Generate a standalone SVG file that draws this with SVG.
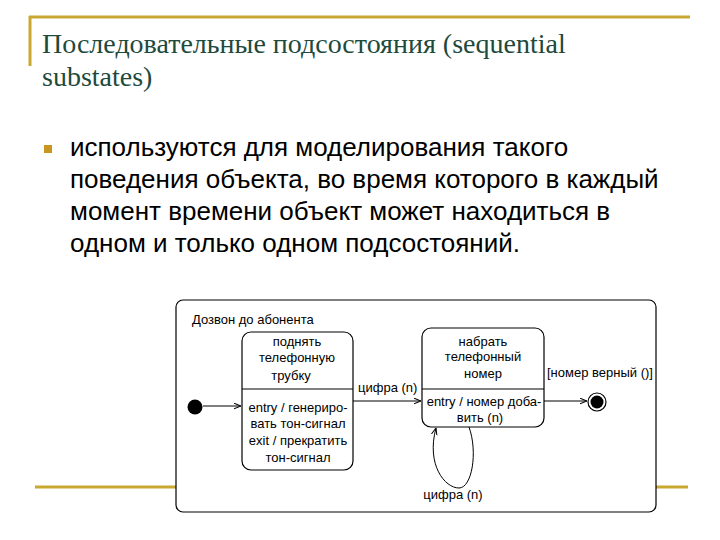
<svg xmlns="http://www.w3.org/2000/svg" width="720" height="540" viewBox="0 0 720 540">
<defs>
<style>
.gold{stroke:#c8a830;stroke-width:3;fill:none}
.title{font-family:"Liberation Serif",serif;font-size:28px;fill:#1e4a3c}
.body{font-family:"Liberation Sans",Arial,sans-serif;font-size:26px;fill:#000}
.d{font-family:"Liberation Sans",Arial,sans-serif;font-size:13px;fill:#000}
.box{fill:#fff;stroke:#000;stroke-width:1.2}
.ln{stroke:#000;stroke-width:1;fill:none}
</style>
<marker id="ar" viewBox="0 0 10 10" refX="10" refY="5" markerWidth="7" markerHeight="7" orient="auto" markerUnits="userSpaceOnUse">
<path d="M0,1 L10,5 L0,9" fill="none" stroke="#000" stroke-width="1.5"/>
</marker>
</defs>
<rect width="720" height="540" fill="#fff"/>
<g id="decor">
<line class="gold" x1="29" y1="17" x2="690" y2="17"/>
<line class="gold" x1="30" y1="16" x2="30" y2="66"/>
<line class="gold" x1="35" y1="487" x2="688" y2="487"/>
<rect x="44" y="145" width="8" height="8" fill="#c8961e"/>
</g>
<g id="title">
<text class="title" x="42" y="53">Последовательные подсостояния (sequential</text>
<text class="title" x="42" y="86">substates)</text>
</g>
<g id="bullet">
<text class="body" x="70" y="156">используются для моделирования такого</text>
<text class="body" x="70" y="188">поведения объекта, во время которого в каждый</text>
<text class="body" x="70" y="220">момент времени объект может находиться в</text>
<text class="body" x="70" y="252">одном и только одном подсостояний.</text>
</g>
<g id="superstate">
<rect class="box" x="176" y="300" width="480" height="212" rx="7"/>
<text class="d" x="192" y="324">Дозвон до абонента</text>
</g>
<g id="initial">
<circle cx="195" cy="407" r="7.5" fill="#000"/>
</g>
<g id="state1">
<rect class="box" x="242" y="332" width="111" height="138" rx="9"/>
<line class="ln" x1="242" y1="389" x2="353" y2="389"/>
<text class="d" text-anchor="middle" x="297" y="346">поднять</text>
<text class="d" text-anchor="middle" x="297" y="362">телефонную</text>
<text class="d" text-anchor="middle" x="291" y="380">трубку</text>
<text class="d" text-anchor="middle" x="298" y="412">entry / генериро-</text>
<text class="d" text-anchor="middle" x="298" y="428">вать тон-сигнал</text>
<text class="d" text-anchor="middle" x="298" y="445">exit / прекратить</text>
<text class="d" text-anchor="middle" x="298" y="462">тон-сигнал</text>
</g>
<g id="state2">
<rect class="box" x="422" y="328" width="122" height="99" rx="9"/>
<line class="ln" x1="422" y1="389" x2="544" y2="389"/>
<text class="d" text-anchor="middle" x="483" y="346">набрать</text>
<text class="d" text-anchor="middle" x="483" y="361">телефонный</text>
<text class="d" text-anchor="middle" x="483" y="378">номер</text>
<text class="d" text-anchor="middle" x="484" y="406">entry / номер доба-</text>
<text class="d" text-anchor="middle" x="480" y="422">вить (n)</text>
</g>
<g id="final">
<circle cx="597" cy="402" r="9" fill="#fff" stroke="#000" stroke-width="1.2"/>
<circle cx="597" cy="402" r="6.5" fill="#000"/>
</g>
<g id="connectors">
<line class="ln" x1="203" y1="406" x2="241" y2="406" marker-end="url(#ar)"/>
<line class="ln" x1="353" y1="401" x2="421" y2="401" marker-end="url(#ar)"/>
<text class="d" x="358" y="392">цифра (n)</text>
<line class="ln" x1="544" y1="401" x2="587" y2="401" marker-end="url(#ar)"/>
<text class="d" x="547" y="377">[номер верный ()]</text>
<path class="ln" d="M469,427 C478,452 472,488 459,488 C445,488 426,465 436,428" marker-end="url(#ar)"/>
<text class="d" text-anchor="middle" x="453" y="499">цифра (n)</text>
</g>
</svg>
